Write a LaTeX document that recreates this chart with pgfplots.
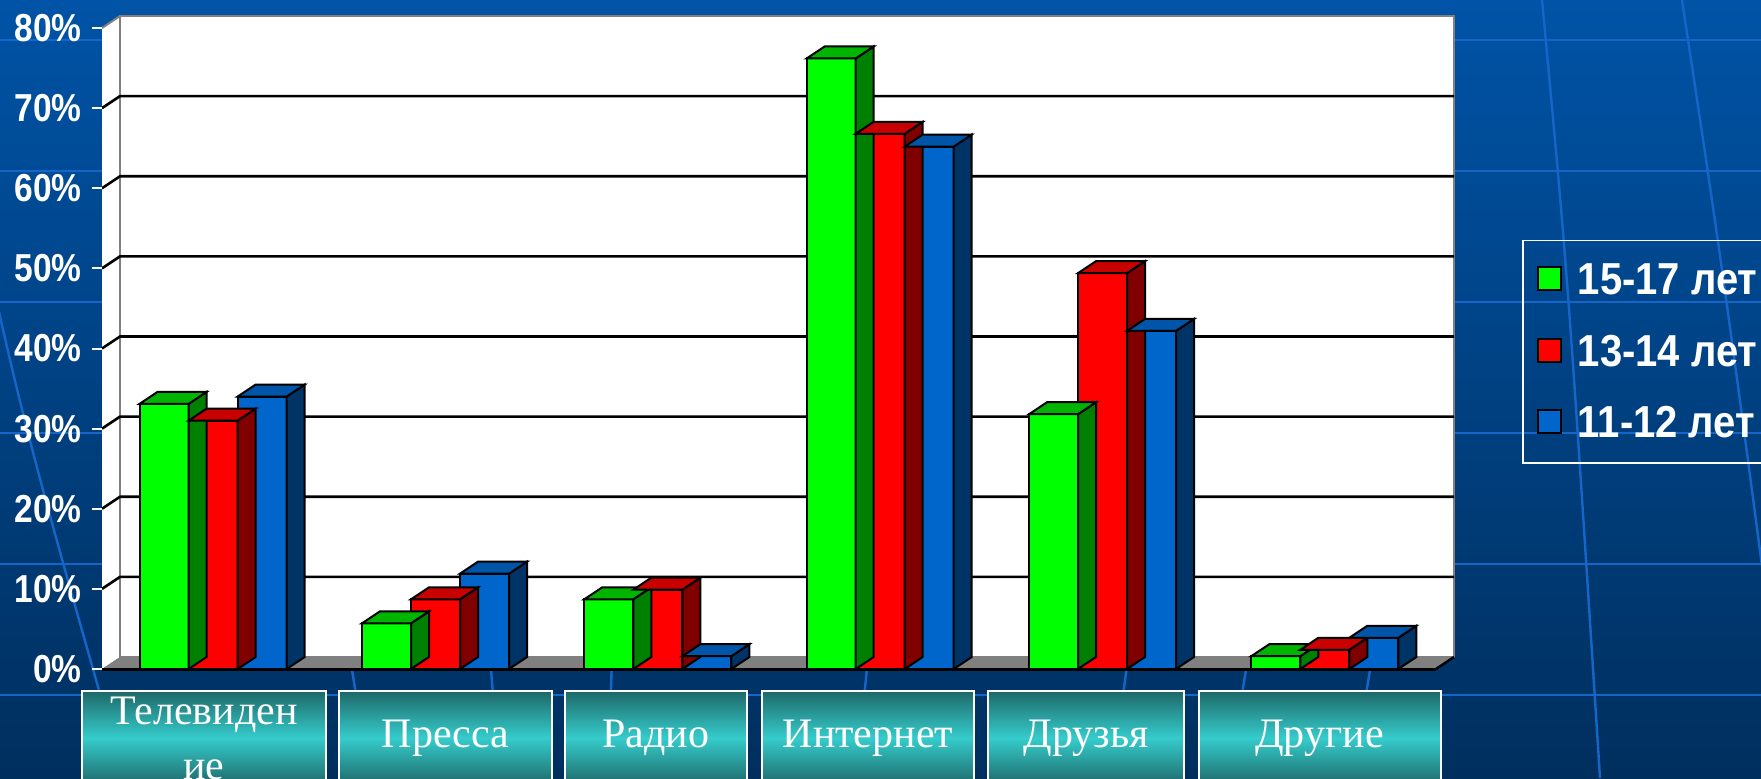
\documentclass[border=0pt]{standalone}
\usepackage{pgfplots}
\pgfplotsset{compat=1.18}
\usepackage{pgfplotstable}
\usepackage{graphicx}
\usepackage{fontspec}
\setmainfont{Liberation Sans}
\newfontfamily\seriffont{Liberation Serif}

\definecolor{bgtop}{HTML}{0053A6}
\definecolor{bgbot}{HTML}{002F5E}
\definecolor{bgline}{HTML}{1566C8}
\definecolor{gF}{HTML}{00FF00}
\definecolor{gT}{HTML}{00B400}
\definecolor{gS}{HTML}{008000}
\definecolor{rF}{HTML}{FF0000}
\definecolor{rT}{HTML}{C80000}
\definecolor{rS}{HTML}{800000}
\definecolor{bF}{HTML}{0066CC}
\definecolor{bT}{HTML}{0055A8}
\definecolor{bS}{HTML}{003366}
\definecolor{floorgray}{HTML}{808080}
\definecolor{tealD}{HTML}{1D6868}
\definecolor{tealL}{HTML}{36CCCC}

\def\bwh{12.25pt}
\def\ddx{9pt}
\def\ddy{6pt}
\def\yu{4.00625pt}

\pgfdeclareplotmark{side3d}{%
  \pgfpathmoveto{\pgfpoint{\bwh}{0pt}}%
  \pgfpathlineto{\pgfpoint{\bwh+\ddx}{\ddy}}%
  \pgfpathlineto{\pgfpoint{\bwh+\ddx}{\ddy-\val*\yu}}%
  \pgfpathlineto{\pgfpoint{\bwh}{-\val*\yu}}%
  \pgfpathclose
  \pgfusepathqfillstroke}
\pgfdeclareplotmark{top3d}{%
  \pgfpathmoveto{\pgfpoint{-\bwh}{0pt}}%
  \pgfpathlineto{\pgfpoint{\bwh}{0pt}}%
  \pgfpathlineto{\pgfpoint{\bwh+\ddx}{\ddy}}%
  \pgfpathlineto{\pgfpoint{-\bwh+\ddx}{\ddy}}%
  \pgfpathclose
  \pgfusepathqfillstroke}

\newcommand\lbl[2]{\parbox[c][47pt][c]{#1}{\centering #2}}
\newcommand\legtxt[1]{\scalebox{1}[1.12]{#1}}

\pgfplotstableread{
c g r b
0 33.1 31.0 34.0
1 5.7 8.7 11.9
2 8.7 9.9 1.6
3 76.2 66.8 65.2
4 31.8 49.4 42.2
5 1.6 2.4 3.9
}\data

\begin{document}
\begin{tikzpicture}
\useasboundingbox (0,0) rectangle (880.5pt,389pt);
\clip (0,0) rectangle (880.5pt,389pt);
\shade[top color=bgtop, bottom color=bgbot] (0,0) rectangle (880.5pt,389pt);
% background globe lines
\foreach \yy in {40,171,302,433,564,695} {
  \draw[bgline, line width=1.2pt] (0,{(778-\yy)*0.5pt}) -- (880.5pt,{(778-\yy)*0.5pt});
}
\draw[bgline, line width=1.2pt] (-32pt,389pt) .. controls (5pt,200pt) .. (62pt,0pt);
\draw[bgline, line width=1.2pt] (771pt,389pt) .. controls (784pt,250pt) .. (800pt,0pt);
\draw[bgline, line width=1.2pt] (841pt,389pt) .. controls (862pt,250pt) .. (895pt,0pt);
\draw[bgline, line width=1.2pt] (175pt,60pt) -- (185pt,0pt);
\draw[bgline, line width=1.2pt] (245pt,60pt) -- (250pt,0pt);
\draw[bgline, line width=1.2pt] (306pt,60pt) -- (304pt,0pt);
\draw[bgline, line width=1.2pt] (434pt,60pt) -- (428pt,0pt);
\draw[bgline, line width=1.2pt] (564pt,60pt) -- (556pt,0pt);
\draw[bgline, line width=1.2pt] (624pt,60pt) -- (614pt,0pt);
\draw[bgline, line width=1.2pt] (686pt,60pt) -- (676pt,0pt);

\begin{axis}[
  at={(51pt,54.5pt)}, anchor=south west,
  scale only axis, width=667pt, height=320.5pt,
  xmin=-0.5, xmax=5.5, ymin=0, ymax=80,
  clip=false, axis on top,
  axis x line*=bottom, axis y line*=left,
  x axis line style={black, line width=1.5pt, -},
  y axis line style={draw=none, -},
  xtick=\empty,
  minor xtick={-0.5,0.5,...,5.5},
  minor tick length=5pt,
  minor tick style={black, line width=1.2pt},
  ytick={0,10,...,80},
  tick align=outside,
  major tick length=5pt,
  y tick style={white, line width=1pt},
  /pgf/number format/assume math mode=true,
  yticklabel={\scalebox{0.86}[1]{\pgfmathprintnumber{\tick}\%}},
  yticklabel style={text=white, font=\fontsize{19.5pt}{20pt}\selectfont\bfseries, inner sep=0pt, xshift=-5pt},
  extra x ticks={-0.0412,1.045,1.9918,2.945,3.926,4.976},
  extra x tick labels={\lbl{122pt}{Телевиден\\ие},\lbl{106.5pt}{Пресса},\lbl{91pt}{Радио},\lbl{106pt}{Интернет},\lbl{98pt}{Друзья},\lbl{121pt}{Другие}},
  extra x tick style={major tick length=0pt,
    xticklabel style={anchor=north, yshift=-10.5pt, inner sep=0pt, draw=white, line width=1pt,
      top color=tealD, bottom color=tealD, middle color=tealL, text=white,
      font=\seriffont\fontsize{21pt}{27.5pt}\selectfont}},
  legend style={at={(1.0645,0.6693)}, anchor=north west, draw=white, line width=0.75pt, fill=none, text=white,
    font=\fontsize{20pt}{24pt}\selectfont\bfseries,
    inner xsep=7pt, inner ysep=12.5pt, row sep=21.3pt, column sep=8pt,
    nodes={inner sep=0pt, text height=14.5pt, text depth=0pt}, cells={anchor=west}},
  legend image code/.code={\draw[#1, draw=black, line width=1pt] (0pt,-5pt) rectangle (11.5pt,6.5pt);},
]
% walls
\fill[white] (axis cs:-0.5,0) -- ([shift={(9pt,6pt)}]axis cs:-0.5,0) -- ([shift={(9pt,6pt)}]axis cs:-0.5,80) -- (axis cs:-0.5,80) -- cycle;
\filldraw[fill=white, draw=floorgray, line width=1pt] ([shift={(9pt,6pt)}]axis cs:-0.5,0) rectangle ([shift={(9pt,6pt)}]axis cs:5.5,80);
\draw[floorgray, line width=1pt] (axis cs:-0.5,80) -- ++(9pt,6pt);
\pgfplotsinvokeforeach{10,20,30,40,50,60,70}{
  \draw[black, line width=1.3pt] (axis cs:-0.5,#1) -- ++(9pt,6pt) -- ++(667pt,0pt);
}
\fill[floorgray] (axis cs:-0.5,0) -- (axis cs:5.5,0) -- ([shift={(9pt,6pt)}]axis cs:5.5,0) -- ([shift={(9pt,6pt)}]axis cs:-0.5,0) -- cycle;
\draw[black, line width=1.2pt] (axis cs:5.5,0) -- ++(9pt,6pt);

% green
\addplot[ybar, bar width=24.5pt, bar shift=-24.5pt, fill=gF, draw=black, line width=1pt] table[x=c,y=g]{\data};
\addplot[forget plot, only marks, mark=side3d, mark options={fill=gS, draw=black, line width=1pt},
  visualization depends on={rawy \as \val}] table[x expr=\thisrow{c}-0.22039, y=g]{\data};
\addplot[forget plot, only marks, mark=top3d, mark options={fill=gT, draw=black, line width=1pt}]
  table[x expr=\thisrow{c}-0.22039, y=g]{\data};
% red
\addplot[ybar, bar width=24.5pt, bar shift=0pt, fill=rF, draw=black, line width=1pt] table[x=c,y=r]{\data};
\addplot[forget plot, only marks, mark=side3d, mark options={fill=rS, draw=black, line width=1pt},
  visualization depends on={rawy \as \val}] table[x=c, y=r]{\data};
\addplot[forget plot, only marks, mark=top3d, mark options={fill=rT, draw=black, line width=1pt}]
  table[x=c, y=r]{\data};
% blue
\addplot[ybar, bar width=24.5pt, bar shift=24.5pt, fill=bF, draw=black, line width=1pt] table[x=c,y=b]{\data};
\addplot[forget plot, only marks, mark=side3d, mark options={fill=bS, draw=black, line width=1pt},
  visualization depends on={rawy \as \val}] table[x expr=\thisrow{c}+0.22039, y=b]{\data};
\addplot[forget plot, only marks, mark=top3d, mark options={fill=bT, draw=black, line width=1pt}]
  table[x expr=\thisrow{c}+0.22039, y=b]{\data};
\legend{\legtxt{15-17 лет},\legtxt{13-14 лет},\legtxt{11-12 лет}}
\end{axis}
\end{tikzpicture}
\end{document}
